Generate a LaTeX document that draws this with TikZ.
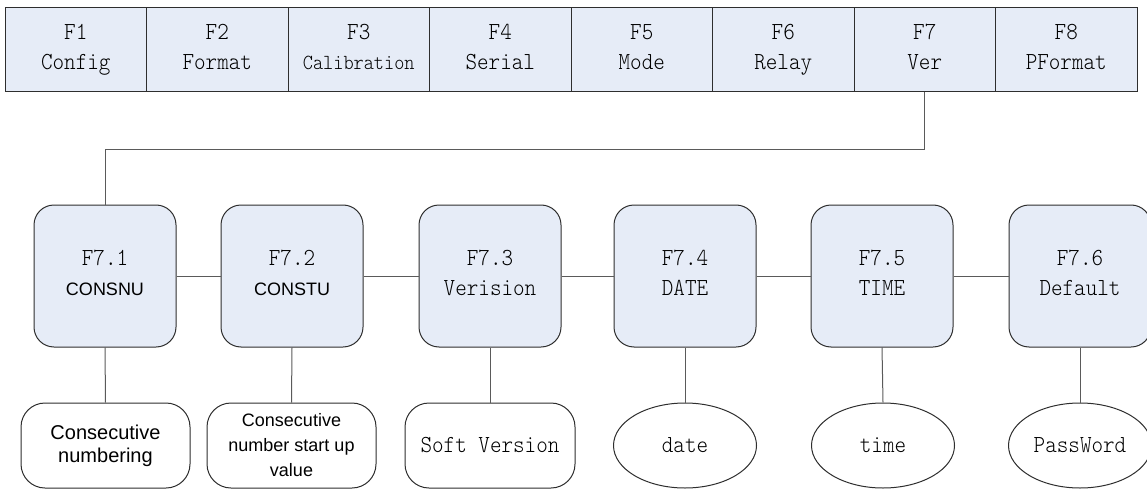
\documentclass[tikz,border=0pt]{standalone}
\usepackage{fontspec}
\newfontfamily\arialf{Liberation Sans}
\newfontfamily\monof[FakeStretch=0.9]{lmmonolt10-regular.otf}
\usetikzlibrary{shapes.geometric}
\definecolor{boxfill}{HTML}{E6ECF7}
\definecolor{edge}{HTML}{2E2E2E}
\definecolor{conn}{HTML}{5A5A5A}
\tikzset{
  mono/.style={font=\monof\fontsize{24.5}{30}\selectfont},
  struts/.style={execute at begin node={\rule{0pt}{21pt}}, execute at end node={\rule[-6pt]{0pt}{6pt}}},
  topcell/.style={draw=edge, line width=1pt, fill=boxfill, minimum width=141.5pt, minimum height=84pt, inner sep=0pt, align=center, mono, struts},
  sub/.style={draw=edge, line width=1pt, fill=boxfill, rounded corners=20pt, minimum width=142pt, minimum height=142pt, inner sep=0pt, align=center, font=\monof\fontsize{24.5}{30.5}\selectfont, struts},
  leafbox/.style={draw=edge, line width=1pt, fill=white, rounded corners=24pt, minimum width=169pt, minimum height=85pt, inner sep=0pt, align=center, mono},
  leafell/.style={draw=edge, line width=1pt, fill=white, ellipse, minimum width=143pt, minimum height=85pt, inner sep=0pt, align=center, mono},
  link/.style={draw=conn, line width=1pt},
}
\begin{document}
\begin{tikzpicture}[x=1pt,y=-1pt]
\useasboundingbox (0,0) rectangle (1147,489);
% top bar
\node[topcell] (f1) at (75.75,50) {F1\\Config};
\node[topcell] (f2) at (217.25,50) {F2\\Format};
\node[topcell] (f3) at (358.75,50) {F3\\{\fontsize{21.5}{30}\selectfont Calibration}};
\node[topcell] (f4) at (500.25,50) {F4\\Serial};
\node[topcell] (f5) at (641.75,50) {F5\\Mode};
\node[topcell] (f6) at (783.25,50) {F6\\Relay};
\node[topcell] (f7) at (924.75,50) {F7\\Ver};
\node[topcell] (f8) at (1066.25,50) {F8\\PFormat};
% sub menu
\node[sub] (s1) at (105,276) {F7.1\\{\arialf\fontsize{18}{29}\selectfont CONSNU}};
\node[sub] (s2) at (292,276) {F7.2\\{\arialf\fontsize{18}{29}\selectfont CONSTU}};
\node[sub] (s3) at (490,276) {F7.3\\Verision};
\node[sub] (s4) at (685,276) {F7.4\\DATE};
\node[sub] (s5) at (882,276) {F7.5\\TIME};
\node[sub] (s6) at (1080,276) {F7.6\\Default};
% leaves
\node[leafbox, font=\arialf\fontsize{20}{23}\selectfont] (b1) at (105.5,445.5) {Consecutive\\numbering};
\node[leafbox, font=\arialf\fontsize{18}{25}\selectfont] (b2) at (291.5,445.5) {Consecutive\\number start up\\value};
\node[leafbox, minimum width=170pt] (b3) at (490,445.5) {Soft Version};
\node[leafell] (b4) at (685,445.5) {date};
\node[leafell] (b5) at (883,445.5) {time};
\node[leafell] (b6) at (1080,445.5) {PassWord};
% connectors
\draw[link] (f7.south) -- ++(0,57) -| (s1.north);
\draw[link] (s1.east) -- (s2.west);
\draw[link] (s2.east) -- (s3.west);
\draw[link] (s3.east) -- (s4.west);
\draw[link] (s4.east) -- (s5.west);
\draw[link] (s5.east) -- (s6.west);
\draw[link] (s1.south) -- (b1.north);
\draw[link] (s2.south) -- (b2.north);
\draw[link] (s3.south) -- (b3.north);
\draw[link] (s4.south) -- (b4.north);
\draw[link] (s5.south) -- (b5.north);
\draw[link] (s6.south) -- (b6.north);
\end{tikzpicture}
\end{document}
